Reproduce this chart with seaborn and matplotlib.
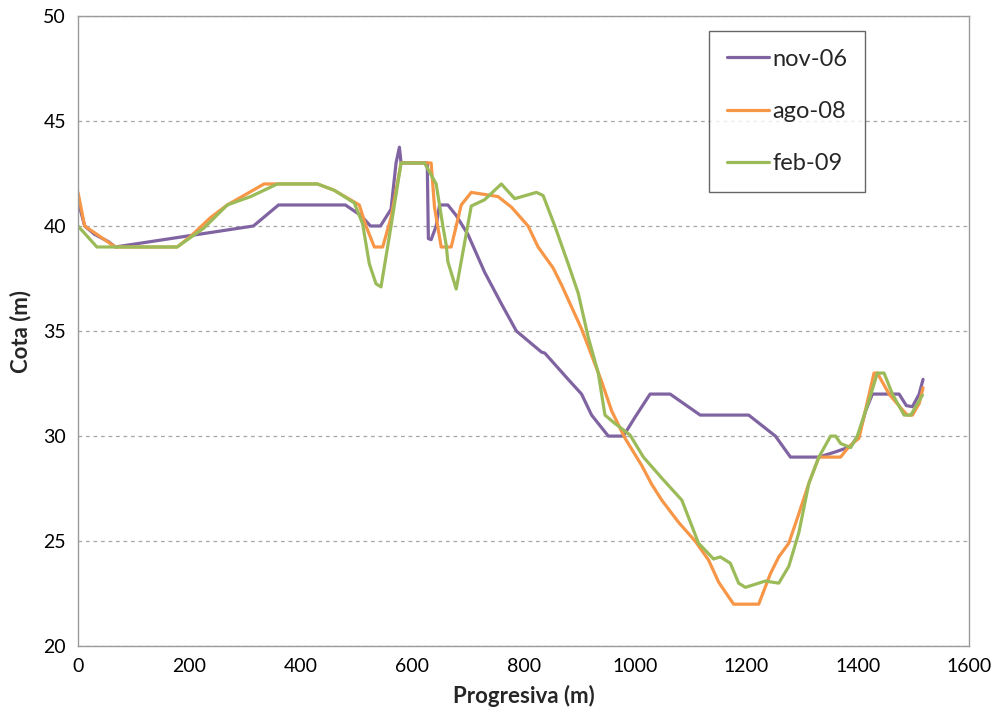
import numpy as np
import pandas as pd
import matplotlib
matplotlib.use("Agg")
import matplotlib.pyplot as plt
import seaborn as sns

# Perfil de cotas por progresiva, tres levantamientos
series = ["nov-06", "ago-08", "feb-09"]

nov06_x = [0, 12, 30, 55, 67, 315, 360, 480, 508, 525, 543, 562, 571, 577, 580,
           627, 629, 634, 643, 649, 664, 679, 700, 730, 760, 787, 832, 838, 880,
           904, 922, 952, 979, 1000, 1027, 1063, 1117, 1204, 1252, 1279, 1330,
           1360, 1387, 1402, 1414, 1426, 1474, 1487, 1498, 1510, 1517]
nov06_y = [41.2, 40.0, 39.6, 39.25, 39.0, 40.0, 41.0, 41.0, 40.5, 40.0, 40.0,
           40.8, 43.0, 43.75, 43.0, 43.0, 39.4, 39.35, 40.0, 41.0, 41.0, 40.5,
           39.6, 37.8, 36.3, 35.0, 34.0, 33.95, 32.7, 32.0, 31.0, 30.0, 30.0,
           30.9, 32.0, 32.0, 31.0, 31.0, 30.0, 29.0, 29.0, 29.25, 29.5, 30.1,
           31.2, 32.0, 32.0, 31.45, 31.4, 32.0, 32.7]

ago08_x = [0, 12, 67, 178, 202, 238, 268, 334, 358, 430, 460, 505, 517, 532,
           547, 562, 580, 634, 640, 652, 670, 688, 706, 754, 778, 808, 826, 853,
           868, 892, 904, 940, 958, 982, 1012, 1030, 1048, 1078, 1108, 1132,
           1150, 1177, 1222, 1243, 1258, 1276, 1294, 1312, 1330, 1369, 1384,
           1402, 1429, 1435, 1456, 1480, 1489, 1498, 1510, 1517]
ago08_y = [41.6, 40.0, 39.0, 39.0, 39.5, 40.4, 41.0, 42.0, 42.0, 42.0, 41.7,
           41.0, 40.0, 39.0, 39.0, 40.4, 43.0, 43.0, 40.9, 39.0, 39.0, 41.0,
           41.6, 41.4, 40.9, 40.0, 39.0, 38.0, 37.2, 35.8, 35.1, 32.6, 31.2,
           29.9, 28.6, 27.7, 26.95, 25.9, 25.0, 24.1, 23.05, 22.0, 22.0, 23.45,
           24.25, 24.9, 26.3, 27.75, 29.0, 29.0, 29.5, 29.9, 33.0, 33.0, 32.0,
           31.25, 31.0, 31.0, 31.55, 32.3]

feb09_x = [0, 34, 178, 226, 268, 310, 358, 430, 460, 496, 511, 523, 535, 544,
           562, 580, 622, 643, 655, 661, 664, 679, 706, 730, 760, 784, 823, 835,
           856, 880, 898, 916, 934, 946, 964, 991, 1015, 1048, 1084, 1114, 1141,
           1153, 1171, 1186, 1198, 1234, 1258, 1276, 1294, 1312, 1330, 1351,
           1360, 1369, 1387, 1399, 1420, 1435, 1447, 1462, 1483, 1495, 1516]
feb09_y = [40.0, 39.0, 39.0, 39.9, 41.0, 41.4, 42.0, 42.0, 41.7, 41.1, 40.1,
           38.2, 37.25, 37.1, 40.0, 43.0, 43.0, 42.0, 40.0, 39.1, 38.3, 37.0,
           40.95, 41.25, 42.0, 41.3, 41.6, 41.45, 40.0, 38.2, 36.8, 34.7, 33.0,
           31.0, 30.6, 30.05, 29.0, 28.0, 26.95, 24.9, 24.15, 24.25, 23.95, 23.0,
           22.8, 23.1, 23.0, 23.8, 25.4, 27.75, 29.0, 30.0, 30.0, 29.65, 29.45,
           30.0, 31.7, 33.0, 33.0, 32.0, 31.0, 31.0, 31.95]

x_ticks = [0, 200, 400, 600, 800, 1000, 1200, 1400, 1600]
y_ticks = [20, 25, 30, 35, 40, 45, 50]

colors = {"nov-06": "#8064A2", "ago-08": "#F79646", "feb-09": "#9BBB59"}

frames = []
for name, xs, ys in zip(series, [nov06_x, ago08_x, feb09_x],
                        [nov06_y, ago08_y, feb09_y]):
    frames.append(pd.DataFrame({"Progresiva": xs, "Cota": ys, "Serie": name}))
df = pd.concat(frames, ignore_index=True)

sns.set_style("white")
plt.rcParams["font.family"] = ["Lato", "DejaVu Sans"]

fig = plt.figure(figsize=(9.97, 7.22), dpi=100)
ax = fig.add_axes([0.0782, 0.105, 0.894, 0.873])

sns.lineplot(data=df, x="Progresiva", y="Cota", hue="Serie", hue_order=series,
             palette=colors, sort=False, estimator=None, linewidth=2.3, ax=ax)

ax.set_xlim(0, 1600)
ax.set_ylim(20, 50)
ax.set_xticks(x_ticks)
ax.set_yticks(y_ticks)
ax.tick_params(axis="both", labelsize=14, colors="#878787", labelcolor="black",
               length=5, width=1, direction="out")
ax.yaxis.grid(True, linestyle=(0, (3, 3)), color="#A6A6A6", linewidth=0.9)
ax.xaxis.grid(False)
for s in ax.spines.values():
    s.set_color("#9A9A9A")
    s.set_linewidth(1.0)

ax.set_xlabel("Progresiva (m)", fontsize=16, fontweight="bold", labelpad=7)
ax.set_ylabel("Cota (m)", fontsize=16, fontweight="bold", labelpad=9)

leg = ax.legend(loc="upper left", bbox_to_anchor=(0.711, 0.957),
                bbox_transform=fig.transFigure, fontsize=17, frameon=True,
                fancybox=False, edgecolor="#404040", handlelength=1.8,
                handletextpad=0.15, labelspacing=1.32, borderpad=0.75,
                borderaxespad=0.0)
leg.get_frame().set_linewidth(1.0)
for line in leg.get_lines():
    line.set_linewidth(2.3)

fig.savefig("out.png", dpi=100)
